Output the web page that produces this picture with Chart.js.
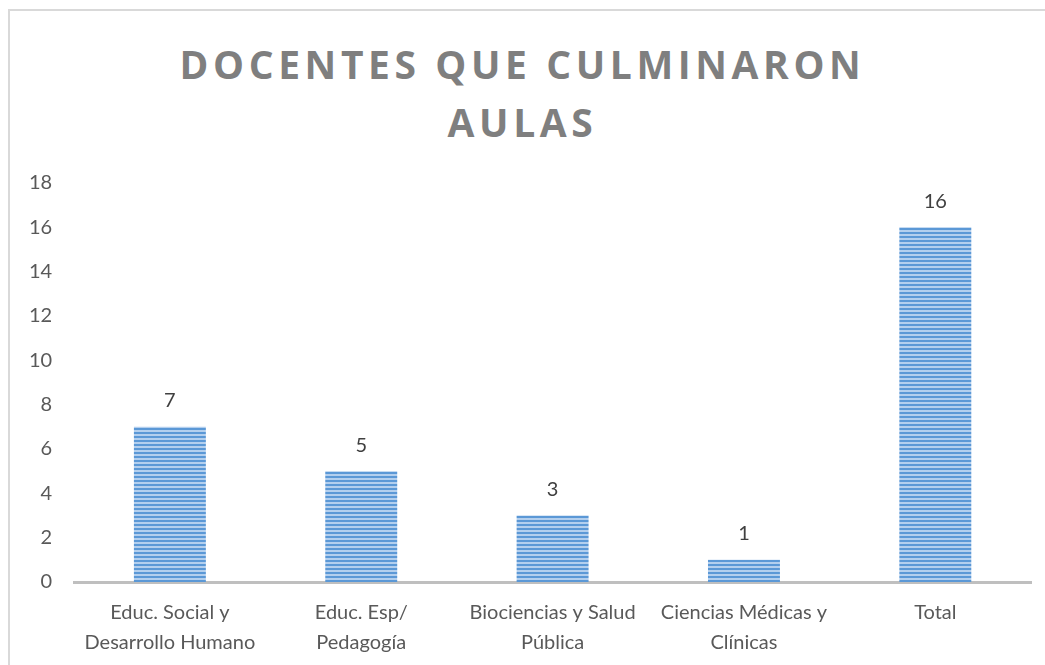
<!DOCTYPE html>
<html>
<head>
<meta charset="utf-8">
<script src="https://cdn.jsdelivr.net/npm/chart.js@4.4.1/dist/chart.umd.min.js"></script>
<style>
  html, body { margin: 0; padding: 0; background: #fff; overflow: hidden; }
  #frame {
    position: absolute; left: 8px; top: 9px; width: 1100px; height: 700px;
    border-top: 2px solid #d9d9d9; border-left: 2px solid #d9d9d9;
  }
  #title {
    position: absolute; left: 0; top: 35px; width: 1045px; text-align: center;
    font-family: "Open Sans", sans-serif; font-weight: bold; font-size: 39px;
    letter-spacing: 4.6px; color: #7f7f7f; line-height: 58px;
  }
  #wrap { position: absolute; left: 0; top: 0; width: 1045px; height: 665px; }
</style>
</head>
<body>
<div id="frame"></div>
<div id="title">DOCENTES QUE CULMINARON<br>AULAS</div>
<div id="wrap"><canvas id="chart"></canvas></div>
<script>
const categories = [
  ['Educ. Social y', 'Desarrollo Humano'],
  ['Educ. Esp/', 'Pedagogía'],
  ['Biociencias y Salud', 'Pública'],
  ['Ciencias Médicas y', 'Clínicas'],
  'Total'
];
const values = [7, 5, 3, 1, 16];
const yTicks = [0, 2, 4, 6, 8, 10, 12, 14, 16, 18];

// striped fill like the original bars
function stripePattern() {
  const c = document.createElement('canvas');
  c.width = 8; c.height = 4;
  const g = c.getContext('2d');
  g.fillStyle = '#b3cfee';
  g.fillRect(0, 0, 8, 4);
  g.fillStyle = '#5b98d6';
  g.fillRect(0, 0, 8, 2);
  return g.createPattern(c, 'repeat');
}

const labelPlugin = {
  id: 'valueLabels',
  afterDatasetsDraw(chart) {
    const ctx = chart.ctx;
    const meta = chart.getDatasetMeta(0);
    ctx.save();
    ctx.font = '20px Lato';
    ctx.fillStyle = '#404040';
    ctx.textAlign = 'center';
    ctx.textBaseline = 'middle';
    meta.data.forEach((bar, i) => {
      ctx.fillText(String(values[i]), bar.x, bar.y - 26);
    });
    ctx.restore();
  }
};

new Chart(document.getElementById('chart'), {
  type: 'bar',
  data: {
    labels: categories,
    datasets: [{
      data: values,
      backgroundColor: stripePattern(),
      borderWidth: 0,
      categoryPercentage: 1,
      barPercentage: 0.376
    }]
  },
  options: {
    responsive: true,
    maintainAspectRatio: false,
    animation: false,
    layout: { padding: { top: 183, left: 7, right: 14, bottom: -9 } },
    plugins: {
      legend: { display: false },
      tooltip: { enabled: false }
    },
    scales: {
      x: {
        grid: { display: false, drawTicks: false },
        border: { color: '#bfbfbf', width: 3 },
        ticks: {
          color: '#595959',
          font: { family: 'Lato', size: 20, lineHeight: 1.5 },
          padding: 16,
          maxRotation: 0,
          autoSkip: false
        }
      },
      y: {
        min: 0,
        max: 18,
        afterBuildTicks(axis) { axis.ticks = yTicks.map(v => ({ value: v })); },
        grid: { display: false, drawTicks: false },
        border: { display: false },
        ticks: {
          color: '#595959',
          font: { family: 'Lato', size: 20 },
          padding: 22
        }
      }
    }
  },
  plugins: [labelPlugin]
});
</script>
</body>
</html>
